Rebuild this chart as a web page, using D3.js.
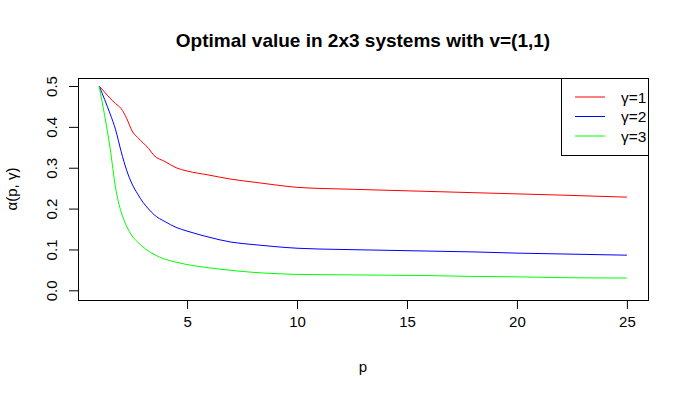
<!DOCTYPE html>
<html>
<head>
<meta charset="utf-8">
<script src="https://cdn.jsdelivr.net/npm/d3@7"></script>
<style>
  body { margin: 0; background: #fff; }
  text { font-family: "Liberation Sans", Arial, sans-serif; }
</style>
</head>
<body>
<div id="container"></div>
<script>
/* CONSTANTS AND GLOBALS */
const width = 689,
  height = 398,
  plotLeft = 78, plotRight = 648, plotTop = 78, plotBottom = 300;

/* DATA */
const pValues = [1, 1.25, 1.5, 1.75, 2, 2.25, 2.5, 2.75, 3, 3.25, 3.5, 4, 4.5, 5, 6, 7, 8, 9, 10, 12, 14, 16, 18, 20, 22, 25];
const gamma1 = [0.5, 0.485, 0.470, 0.457, 0.445, 0.421, 0.390, 0.374, 0.361, 0.347, 0.330, 0.315, 0.300, 0.292, 0.282, 0.272, 0.265, 0.258, 0.252, 0.248, 0.245, 0.242, 0.239, 0.236, 0.233, 0.228];
const gamma2 = [0.5, 0.467, 0.432, 0.393, 0.340, 0.294, 0.260, 0.236, 0.215, 0.199, 0.185, 0.168, 0.154, 0.145, 0.130, 0.118, 0.112, 0.107, 0.103, 0.100, 0.098, 0.096, 0.094, 0.091, 0.089, 0.086];
const gamma3 = [0.5, 0.428, 0.348, 0.250, 0.192, 0.157, 0.133, 0.118, 0.106, 0.096, 0.088, 0.076, 0.069, 0.063, 0.055, 0.049, 0.044, 0.041, 0.039, 0.038, 0.037, 0.036, 0.034, 0.033, 0.031, 0.030];
const seriesNames = ["γ=1", "γ=2", "γ=3"];
const seriesColors = ["#ff0000", "#0000ff", "#00ff00"];
const xTicks = [5, 10, 15, 20, 25];
const yTicks = [0.0, 0.1, 0.2, 0.3, 0.4, 0.5];

const series = [gamma1, gamma2, gamma3].map((vals, i) => ({
  name: seriesNames[i],
  color: seriesColors[i],
  values: vals.map((v, j) => ({ p: pValues[j], v: v }))
}));

// SCALES (R style: range padded 4%)
const xScale = d3.scaleLinear()
  .domain([0.04, 25.96])
  .range([plotLeft, plotRight]);

const yScale = d3.scaleLinear()
  .domain([-0.0237, 0.5196])
  .range([plotBottom, plotTop]);

// CREATE SVG ELEMENT
const svg = d3.select("#container")
  .append("svg")
  .attr("width", width)
  .attr("height", height);

// AXES
const xAxis = d3.axisBottom(xScale)
  .tickValues(xTicks)
  .tickSize(9)
  .tickPadding(7)
  .tickFormat(d3.format("d"));

const gx = svg.append("g")
  .attr("transform", `translate(0,${plotBottom})`)
  .call(xAxis);
gx.select(".domain").remove();
gx.selectAll("text").style("font-size", "15px").attr("fill", "#000");

const yAxis = d3.axisLeft(yScale)
  .tickValues(yTicks)
  .tickSize(9)
  .tickFormat(d3.format(".1f"));

const gy = svg.append("g")
  .attr("transform", `translate(${plotLeft},0)`)
  .call(yAxis);
gy.select(".domain").remove();
// R draws the y labels parallel to the axis
gy.selectAll(".tick text")
  .style("font-size", "15px")
  .attr("fill", "#000")
  .attr("x", 0).attr("y", 0).attr("dy", null)
  .attr("text-anchor", "middle")
  .attr("transform", "translate(-21,0) rotate(-90)");

// PLOT BOX
svg.append("rect")
  .attr("x", plotLeft + 0.5)
  .attr("y", plotTop + 0.5)
  .attr("width", plotRight - plotLeft)
  .attr("height", plotBottom - plotTop)
  .attr("fill", "none")
  .attr("stroke", "#000");

// LINES
const line = d3.line()
  .x(d => xScale(d.p))
  .y(d => yScale(d.v))
  .curve(d3.curveMonotoneX);

svg.selectAll("path.series")
  .data(series)
  .join("path")
  .attr("class", "series")
  .attr("d", d => line(d.values))
  .attr("fill", "none")
  .attr("stroke", d => d.color)
  .attr("stroke-width", 1);

// LEGEND
const legend = svg.append("g");
legend.append("rect")
  .attr("x", 561.5)
  .attr("y", plotTop + 0.5)
  .attr("width", plotRight - 561)
  .attr("height", 77)
  .attr("fill", "#fff")
  .attr("stroke", "#000");

const items = legend.selectAll("g.item")
  .data(series)
  .join("g")
  .attr("class", "item")
  .attr("transform", (d, i) => `translate(0,${97 + i * 19.5})`);
items.append("line")
  .attr("x1", 575).attr("x2", 605)
  .attr("stroke", d => d.color);
items.append("text")
  .attr("x", 621)
  .attr("dy", "0.36em")
  .style("font-size", "15.5px")
  .text(d => d.name);

// TITLES
svg.append("text")
  .attr("x", (plotLeft + plotRight) / 2)
  .attr("y", 47)
  .attr("text-anchor", "middle")
  .style("font-size", "19px")
  .style("font-weight", "bold")
  .text("Optimal value in 2x3 systems with v=(1,1)");

svg.append("text")
  .attr("x", (plotLeft + plotRight) / 2)
  .attr("y", 372)
  .attr("text-anchor", "middle")
  .style("font-size", "15px")
  .text("p");

svg.append("text")
  .attr("transform", `translate(17,${(plotTop + plotBottom) / 2}) rotate(-90)`)
  .attr("text-anchor", "middle")
  .style("font-size", "15px")
  .text("α(p, γ)");
</script>
</body>
</html>
